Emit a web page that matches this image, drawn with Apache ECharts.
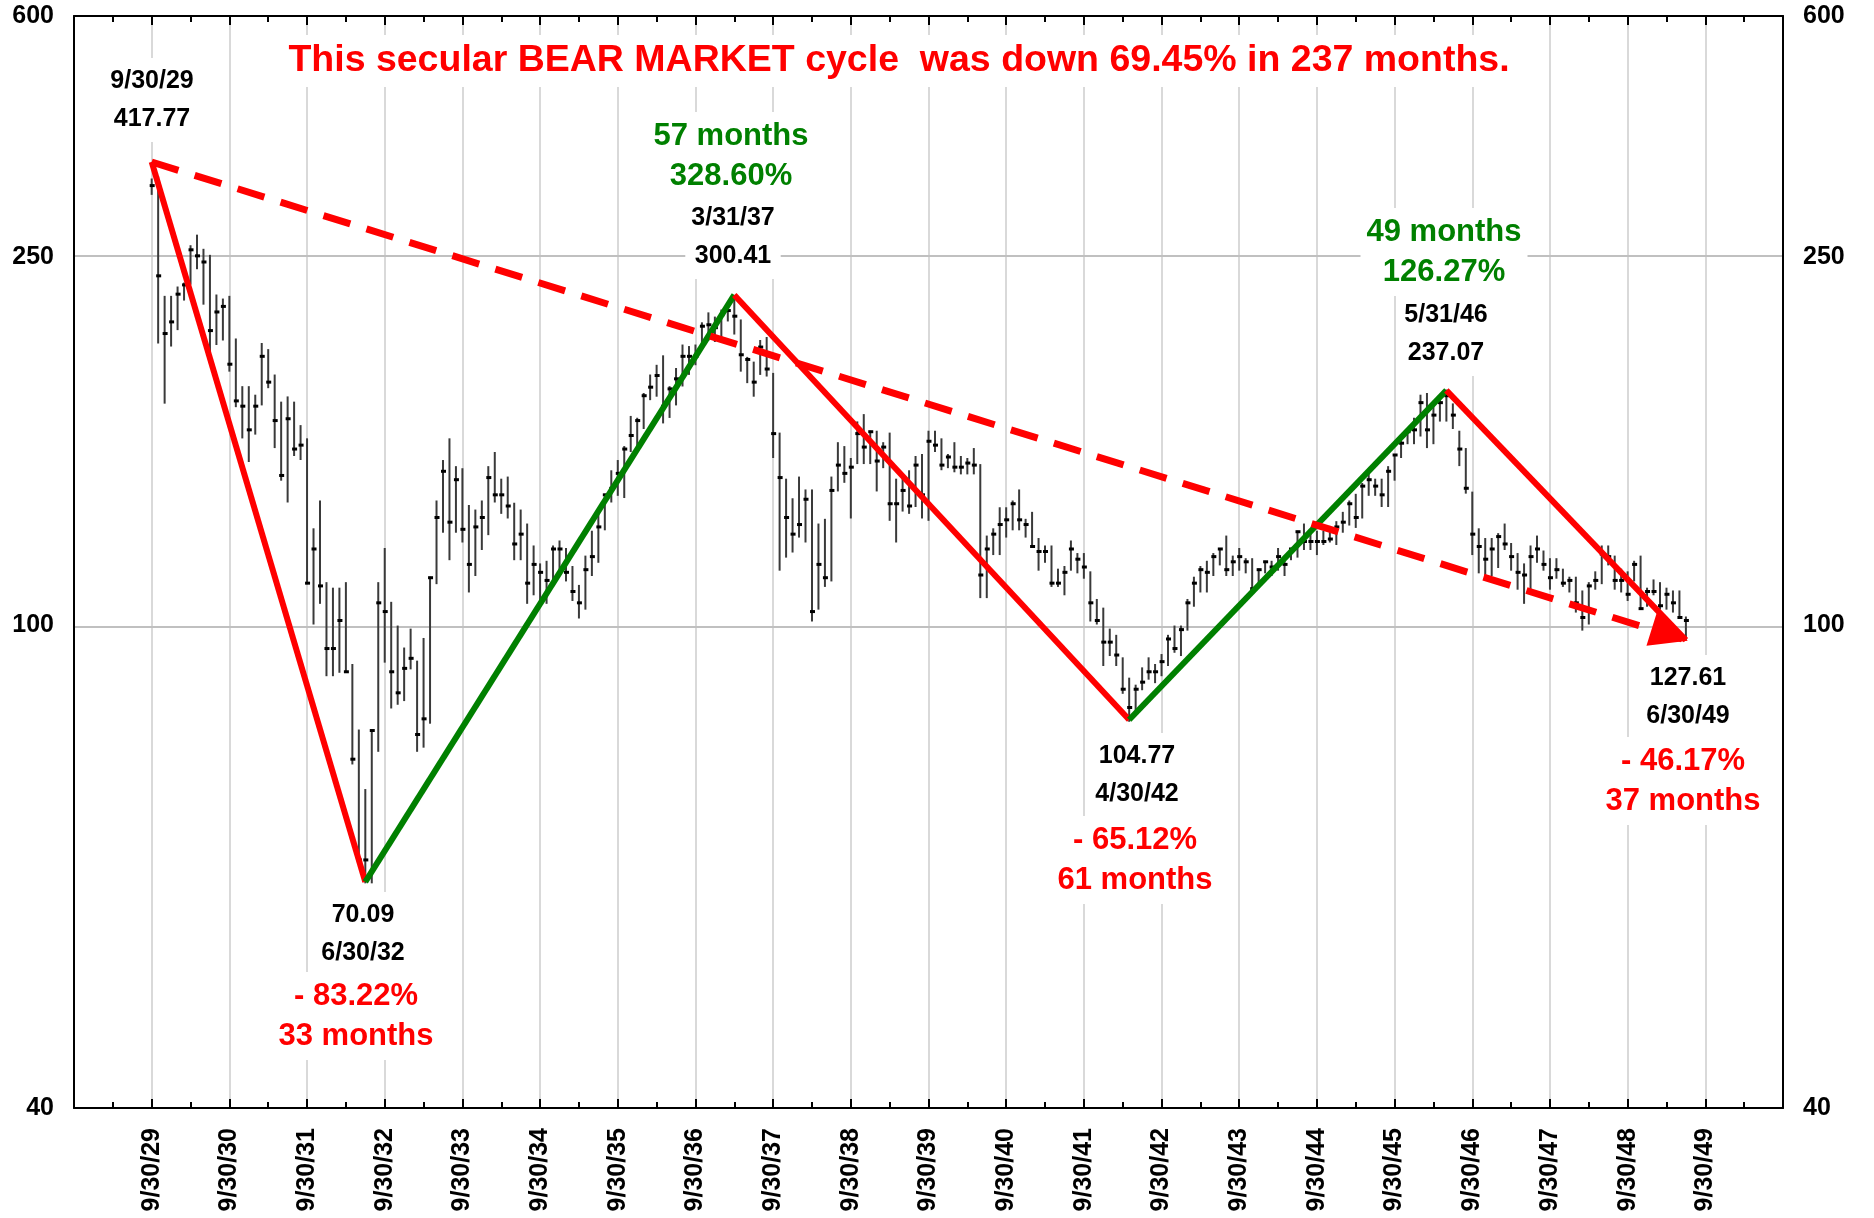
<!DOCTYPE html>
<html>
<head>
<meta charset="utf-8">
<script src="https://cdn.jsdelivr.net/npm/echarts@6/dist/echarts.min.js"></script>
<style>
  html, body { margin: 0; padding: 0; background: #fff; }
  #chart { width: 1874px; height: 1218px; }
</style>
</head>
<body>
<div id="chart"></div>
<script>
// monthly bars, index 0 = 9/30/29, one row per year
const highs = [
  400, 402, 299, 299, 306, 309, 339, 348, 336, 331, 300, 297,
  299, 269, 239, 239, 234, 266, 262, 246, 230, 233, 230, 217,
  210, 168, 180, 147, 145, 145, 147, 120, 102, 88, 102, 147,
  160, 140, 132, 125, 131, 121, 128, 149, 180, 199, 210, 196,
  195, 178, 176, 180, 196, 203, 190, 191, 179, 176, 170, 161,
  154, 155, 161, 163, 160, 153, 146, 157, 167, 174, 183, 194,
  199, 206, 222, 221, 235, 246, 252, 258, 239, 250, 265, 264,
  265, 280, 287, 284, 289, 293, 299, 282, 257, 254, 268, 270,
  247, 213, 190, 181, 191, 185, 185, 170, 172, 191, 208, 206,
  200, 219, 223, 214, 214, 208, 213, 190, 191, 194, 201, 202,
  214, 214, 210, 202, 208, 201, 200, 205, 197, 165, 168, 177,
  177, 180, 185, 172, 175, 164, 161, 161, 152, 153, 163, 158,
  158, 151, 141, 138, 131, 129, 122, 116, 114, 119, 122, 120,
  123, 129, 132, 132, 141, 149, 153, 155, 158, 160, 165, 157,
  160, 156, 156, 152, 155, 155, 160, 157, 160, 167, 170, 167,
  167, 167, 169, 171, 175, 180, 183, 188, 193, 190, 190, 196,
  202, 209, 215, 221, 234, 235, 229, 232, 237, 229, 214, 205,
  184, 168, 164, 164, 166, 170, 162, 158, 154, 161, 165, 159,
  156, 156, 152, 149, 149, 144, 147, 151, 161, 161, 157, 152,
  151, 155, 157, 145, 148, 147, 145, 144, 144, 135
];
const lows = [
  386, 267, 230, 265, 276, 297, 309, 321, 294, 259, 266, 269,
  249, 228, 211, 199, 213, 229, 239, 206, 190, 180, 202, 200,
  147, 133, 140, 117, 117, 118, 118, 94, 74, 70, 70, 97,
  121, 108, 109, 110, 119, 97, 98, 104, 147, 167, 156, 167,
  163, 144, 150, 160, 166, 180, 175, 173, 156, 156, 140, 143,
  139, 140, 148, 152, 148, 141, 135, 138, 150, 155, 168, 180,
  183, 182, 204, 207, 216, 232, 234, 219, 222, 229, 240, 247,
  253, 267, 269, 268, 268, 282, 273, 249, 242, 234, 247, 246,
  201, 152, 157, 159, 165, 163, 134, 138, 146, 148, 185, 189,
  173, 198, 198, 198, 185, 196, 172, 163, 176, 175, 178, 173,
  172, 204, 195, 196, 194, 193, 193, 193, 142, 142, 158, 158,
  165, 168, 168, 165, 161, 152, 155, 146, 146, 143, 152, 151,
  149, 134, 133, 120, 123, 120, 112, 104.5, 106, 113, 116, 115,
  117, 120, 124, 123, 131, 139, 144, 144, 150, 154, 150, 150,
  152, 151, 145, 146, 151, 150, 152, 150, 156, 157, 160, 160,
  158, 162, 163, 162, 167, 170, 169, 173, 183, 183, 178, 178,
  190, 201, 208, 208, 212, 206, 208, 220, 220, 216, 197, 184,
  158, 151, 149, 150, 153, 160, 152, 145, 140, 145, 155, 152,
  145, 149, 146, 144, 137, 131, 133, 145, 147, 154, 145, 144,
  141, 148, 138, 139, 143, 138, 138, 137, 135, 128
];
const closes = [
  394, 315, 273, 281, 301, 308, 336, 331, 326, 275, 288, 292,
  253, 231, 228, 215, 228, 258, 242, 220, 192, 221, 205, 207,
  147, 160, 146, 125, 125, 134, 118, 95, 74, 74, 102, 140,
  137, 118, 112, 119, 122, 101, 105, 149, 173, 194, 171, 190,
  168, 154, 169, 173, 191, 183, 183, 178, 162, 166, 147, 154,
  151, 148, 160, 160, 151, 144, 140, 152, 157, 169, 183, 186,
  193, 205, 212, 220, 234, 239, 246, 228, 238, 244, 258, 258,
  258, 278, 279, 277, 286, 289, 285, 259, 256, 242, 264, 250,
  213, 191, 173, 166, 170, 181, 137, 154, 149, 185, 197, 193,
  196, 213, 206, 214, 199, 206, 179, 179, 185, 178, 197, 183,
  209, 207, 197, 201, 196, 196, 198, 197, 150, 160, 166, 170,
  172, 179, 172, 170, 161, 159, 159, 147, 147, 151, 160, 156,
  153, 140, 134, 127, 127, 123, 113, 108, 113, 115, 118, 118,
  121, 128, 125, 131, 140, 147, 152, 151, 157, 160, 152, 155,
  157, 155, 145, 152, 155, 153, 157, 154, 160, 167, 163, 163,
  163, 163, 164, 169, 171, 179, 173, 187, 190, 187, 183, 194,
  202, 208, 214, 215, 230, 215, 223, 230, 234, 223, 205, 186,
  166, 161, 156, 160, 165, 162, 157, 151, 150, 157, 160, 154,
  149, 152, 147, 148, 140, 135, 146, 148, 158, 157, 148, 148,
  143, 154, 138, 144, 144, 139, 143, 140, 135, 134
];

const yearLabels = [
  '9/30/29', '9/30/30', '9/30/31', '9/30/32', '9/30/33', '9/30/34', '9/30/35',
  '9/30/36', '9/30/37', '9/30/38', '9/30/39', '9/30/40', '9/30/41', '9/30/42',
  '9/30/43', '9/30/44', '9/30/45', '9/30/46', '9/30/47', '9/30/48', '9/30/49'
];

// where the picture puts its y labels and grid lines
const yTickValues = [40, 132.6, 330, 600];
const yTickLabels = ['40', '100', '250', '600'];
const gridValues = [132.6, 330];

// turning points of the cycle (month index, level)
const pivotMonths = [0, 33, 90, 151, 200, 237];
const pivotValues = [417.77, 70.09, 300.41, 104.77, 237.07, 127.61];

const RED = '#ff0000';
const GREEN = '#008000';
const FONT = '"Liberation Sans", Arial, sans-serif';
const lg = Math.log10;

const chart = echarts.init(document.getElementById('chart'));

const barData = highs.map((h, i) => [i, lg(h), lg(lows[i]), lg(closes[i])]);

// solid legs, alternating red (down) and green (up)
const legSeries = [];
for (let k = 0; k < pivotMonths.length - 1; k++) {
  legSeries.push({
    type: 'line',
    silent: true,
    z: 4,
    symbol: 'none',
    lineStyle: { color: k % 2 === 0 ? RED : GREEN, width: 6 },
    data: [
      [pivotMonths[k], lg(pivotValues[k])],
      [pivotMonths[k + 1], lg(pivotValues[k + 1])]
    ]
  });
}

const last = pivotMonths.length - 1;
const trendStart = [pivotMonths[0], lg(pivotValues[0])];
const trendEnd = [pivotMonths[last], lg(pivotValues[last])];

const note = (text, x, y, color, size, lineHeight) => ({
  type: 'text',
  x: x,
  y: y,
  z: 3,
  silent: true,
  style: {
    text: text,
    fill: color,
    font: 'bold ' + size + 'px ' + FONT,
    align: 'center',
    verticalAlign: 'middle',
    lineHeight: lineHeight,
    backgroundColor: '#fff',
    padding: [4, 6]
  }
});

const xAxisBase = {
  type: 'value',
  min: -12,
  max: 252,
  interval: 12,
  axisLine: { show: true, onZero: false, lineStyle: { color: '#000', width: 2 } },
  axisTick: { show: true, inside: true, length: 9, lineStyle: { color: '#000', width: 2 } },
  minorTick: { show: true, splitNumber: 2, length: 6, lineStyle: { color: '#000', width: 2 } }
};

const yAxisBase = {
  type: 'value',
  min: lg(40),
  max: lg(600),
  axisLine: { show: true, onZero: false, lineStyle: { color: '#000', width: 2 } },
  axisTick: { show: false },
  splitLine: { show: false },
  axisLabel: {
    customValues: yTickValues.map(lg),
    fontFamily: FONT,
    fontWeight: 'bold',
    fontSize: 25,
    color: '#000',
    margin: 20,
    formatter: function (val) {
      let best = 0;
      yTickValues.forEach((t, i) => {
        if (Math.abs(lg(t) - val) < Math.abs(lg(yTickValues[best]) - val)) best = i;
      });
      return yTickLabels[best];
    }
  }
};

chart.setOption({
  animation: false,
  backgroundColor: '#fff',
  grid: { left: 74, right: 91, top: 16, bottom: 110 },
  xAxis: [
    Object.assign({}, xAxisBase, {
      position: 'bottom',
      splitLine: { show: true, lineStyle: { color: '#cccccc', width: 1.5 } },
      axisLabel: {
        rotate: 90,
        margin: 20,
        fontFamily: FONT,
        fontWeight: 'bold',
        fontSize: 25,
        color: '#000',
        formatter: function (v) {
          if (v < 0 || v > 240) return '';
          return yearLabels[Math.round(v / 12)];
        }
      }
    }),
    Object.assign({}, xAxisBase, {
      position: 'top',
      splitLine: { show: false },
      axisLabel: { show: false }
    })
  ],
  yAxis: [
    Object.assign({}, yAxisBase, { position: 'left' }),
    Object.assign({}, yAxisBase, { position: 'right' })
  ],
  graphic: [
    note('This secular BEAR MARKET cycle  was down 69.45% in 237 months.', 899, 61, RED, 37.5, 44),
    note('9/30/29\n417.77', 152, 100, '#000', 25, 38),
    note('57 months\n328.60%', 731, 156, GREEN, 31, 40),
    note('3/31/37\n300.41', 733, 237, '#000', 25, 38),
    note('49 months\n126.27%', 1444, 252, GREEN, 31, 40),
    note('5/31/46\n237.07', 1446, 334, '#000', 25, 38),
    note('70.09\n6/30/32', 363, 934, '#000', 25, 38),
    note('- 83.22%\n33 months', 356, 1016, RED, 31, 40),
    note('104.77\n4/30/42', 1137, 775, '#000', 25, 38),
    note('- 65.12%\n61 months', 1135, 860, RED, 31, 40),
    note('127.61\n6/30/49', 1688, 697, '#000', 25, 38),
    note('- 46.17%\n37 months', 1683, 781, RED, 31, 40)
  ],
  series: [
    {
      // horizontal grid lines
      type: 'line',
      data: [],
      z: 0,
      silent: true,
      markLine: {
        z: 0,
        silent: true,
        symbol: 'none',
        label: { show: false },
        lineStyle: { color: '#c0c0c0', width: 2, type: 'solid' },
        data: gridValues.map(v => ({ yAxis: lg(v) }))
      }
    },
    {
      type: 'custom',
      z: 2,
      silent: true,
      data: barData,
      renderItem: function (params, api) {
        const x = api.value(0);
        const hi = api.coord([x, api.value(1)]);
        const lo = api.coord([x, api.value(2)]);
        const cl = api.coord([x, api.value(3)]);
        return {
          type: 'group',
          children: [
            {
              type: 'line',
              shape: { x1: hi[0], y1: hi[1] - 1, x2: lo[0], y2: lo[1] + 1 },
              style: { stroke: '#3a3a3a', lineWidth: 2 }
            },
            {
              type: 'line',
              shape: { x1: cl[0] - 2, y1: cl[1], x2: cl[0] + 3, y2: cl[1] },
              style: { stroke: '#000', lineWidth: 3 }
            }
          ]
        };
      }
    },
    ...legSeries,
    {
      // dashed trend from the 1929 top to the 1949 close
      type: 'line',
      data: [],
      z: 5,
      silent: true,
      markLine: {
        z: 5,
        silent: true,
        symbol: 'none',
        label: { show: false },
        lineStyle: { color: RED, width: 7, type: [28, 17], opacity: 1 },
        data: [[{ coord: trendStart }, { coord: trendEnd }]]
      }
    },
    {
      // arrow head at the end of the dashed trend
      type: 'custom',
      z: 6,
      silent: true,
      data: [[trendStart[0], trendStart[1], trendEnd[0], trendEnd[1]]],
      renderItem: function (params, api) {
        const a = api.coord([api.value(0), api.value(1)]);
        const b = api.coord([api.value(2), api.value(3)]);
        const dx = b[0] - a[0];
        const dy = b[1] - a[1];
        const len = Math.sqrt(dx * dx + dy * dy);
        const ux = dx / len;
        const uy = dy / len;
        const headLen = 36;
        const half = 17;
        const bx = b[0] - ux * headLen;
        const by = b[1] - uy * headLen;
        return {
          type: 'polygon',
          shape: {
            points: [
              [b[0] + ux * 2, b[1] + uy * 2],
              [bx - uy * half, by + ux * half],
              [bx + uy * half, by - ux * half]
            ]
          },
          style: { fill: RED }
        };
      }
    }
  ]
});
</script>
